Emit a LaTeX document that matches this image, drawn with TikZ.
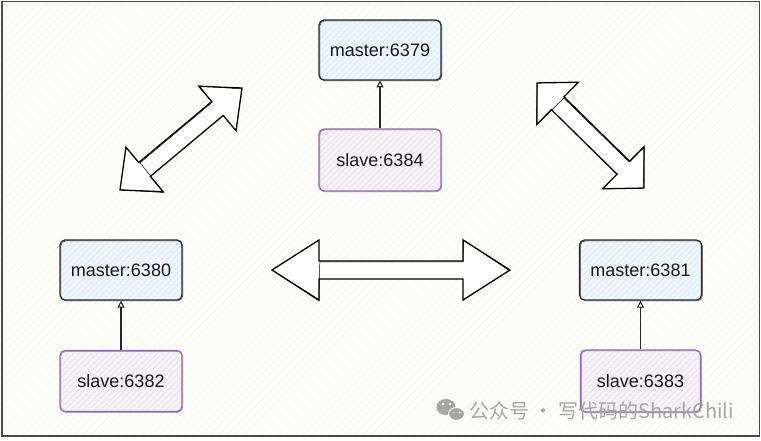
\documentclass[tikz,border=0pt]{standalone}
\usepackage{fontspec}
\setmainfont{Liberation Sans}
\newfontfamily\cjkfont{Noto Sans CJK SC}
\usetikzlibrary{arrows.meta,patterns.meta}
\definecolor{bgc}{HTML}{FDFDFA}
\definecolor{bglines}{HTML}{F4F4EA}
\definecolor{framec}{HTML}{4A4A4A}
\definecolor{masterfill}{HTML}{EEF5FC}
\definecolor{masterhatch}{HTML}{CFE2F6}
\definecolor{masteredge}{HTML}{2B2B2B}
\definecolor{slavefill}{HTML}{F6F2F7}
\definecolor{slavehatch}{HTML}{E0D3E6}
\definecolor{slaveedge}{HTML}{9868AE}
\definecolor{wmc}{HTML}{A6A6A6}
\tikzset{
  box/.style={rectangle, rounded corners=5pt, minimum width=122pt, minimum height=60pt,
    line width=1.2pt, inner sep=0pt, font=\fontsize{18}{20}\selectfont, text=black!90},
  master/.style={box, draw=masteredge, preaction={fill=masterfill},
    pattern={Lines[angle=45,distance=4pt,line width=0.6pt]}, pattern color=masterhatch,
    postaction={draw=masteredge, line width=0.5pt, transform canvas={shift={(0.8pt,-0.8pt)}}}},
  slave/.style={box, draw=slaveedge, preaction={fill=slavefill},
    pattern={Lines[angle=45,distance=4pt,line width=0.6pt]}, pattern color=slavehatch,
    postaction={draw=slaveedge, line width=0.5pt, transform canvas={shift={(0.8pt,-0.8pt)}}}},
  link/.style={line width=1.1pt, draw=black!85, -{Triangle[open,length=7pt,width=7pt]}},
  bigarrow/.style={draw=black, fill=white, line width=1.3pt, line join=miter},
  bigarrowb/.style={draw=black, line width=0.5pt, line join=miter},
}
\newcommand\fatdblarrow[7]{%
  \begin{scope}[shift={(#1,#2)},rotate=#3]
    \draw[bigarrow] (-#4,0) -- (-#4+#5,#6) -- (-#4+#5,#7) -- (#4-#5,#7) -- (#4-#5,#6) -- (#4,0)
      -- (#4-#5,-#6) -- (#4-#5,-#7) -- (-#4+#5,-#7) -- (-#4+#5,-#6) -- cycle;
    \draw[bigarrowb] (-#4+1,0.6) -- (-#4+#5,#6+1) -- (-#4+#5+0.8,-#7+1) -- (#4-#5,-#7+0.8) -- (#4-#5+0.6,-#6) -- (#4-0.5,0.8);
  \end{scope}}
\begin{document}
\begin{tikzpicture}[x=1pt,y=-1pt]
  \useasboundingbox (0,0) rectangle (761,441);
  % background
  \fill[white] (0,0) rectangle (761,441);
  \fill[bgc] (2,1.5) rectangle (759.5,436);
  \fill[pattern={Lines[angle=45,distance=6pt,line width=0.6pt]}, pattern color=bglines] (2,1.5) rectangle (759.5,436);
  \draw[framec, line width=1.6pt] (2,1.5) rectangle (759.5,436);

  % big double arrows
  \fatdblarrow{391}{270}{0}{119}{47}{30}{9}
  \fatdblarrow{181}{139}{39.9}{79.5}{32}{29}{9}
  \fatdblarrow{590.5}{135.5}{-44.5}{75}{29}{29.5}{9}

  % nodes
  \node[master] (m79) at (380,50) {master:6379};
  \node[slave, minimum height=62pt] (s84) at (380,160) {slave:6384};
  \node[master] (m80) at (121,270) {master:6380};
  \node[slave, minimum height=61pt] (s82) at (121,381) {slave:6382};
  \node[master] (m81) at (640.5,270) {master:6381};
  \node[slave, minimum width=120pt, minimum height=62pt] (s83) at (640.5,381) {slave:6383};

  % replication links
  \draw[link] (s84) -- (m79);
  \draw[link] (s82) -- (m80);
  \draw[link] (s83) -- (m81);

  % watermark
  \fill[wmc] (446,407) ellipse (9.5 and 8);
  \fill[wmc, draw=bgc, line width=1pt] (456.5,414) ellipse (8 and 6.5);
  \fill[bgc] (443,404) circle (1.3) (450,404) circle (1.3) (454,412.5) circle (1) (459.5,412.5) circle (1);
  \node[anchor=west, text=wmc, inner sep=0pt, font=\cjkfont\fontsize{20}{22}\selectfont] (wm) at (469,411) {公众号 · 写代码的SharkChili};
\end{tikzpicture}
\end{document}
